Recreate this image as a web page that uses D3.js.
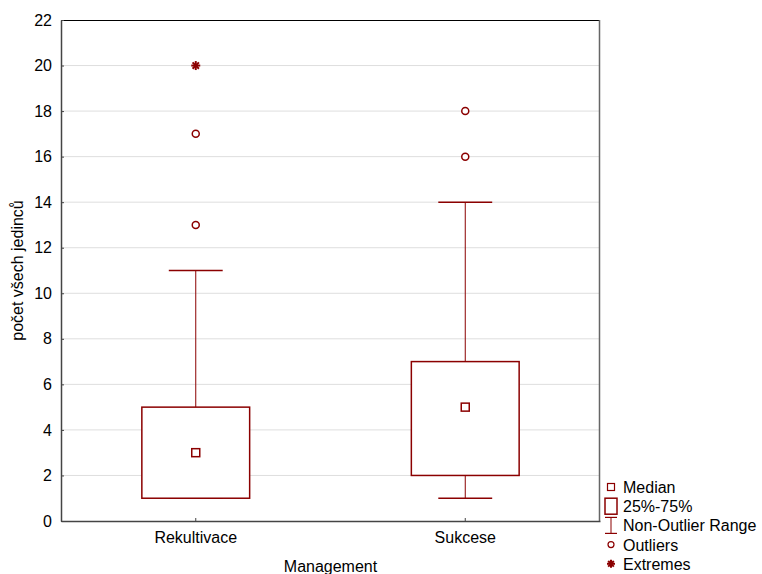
<!DOCTYPE html>
<html lang="cs">
<head>
<meta charset="UTF-8">
<title>Box plot</title>
<script src="https://d3js.org/d3.v7.min.js"></script>
<style>
  body { margin: 0; background: #fff; }
  svg { display: block; font-family: Arial, "Liberation Sans", sans-serif; }
</style>
</head>
<body>
<svg width="762" height="574"></svg>
<script>
// data
var categories = ["Rekultivace", "Sukcese"];
var q1 = [1, 2];
var q3 = [5, 7];
var medians = [3, 5];
var whiskerLow = [1, 1];
var whiskerHigh = [11, 14];
var outliers = [[13, 17], [16, 18]];
var extremes = [[20], []];
var yTicks = [0, 2, 4, 6, 8, 10, 12, 14, 16, 18, 20, 22];
var legendItems = ["Median", "25%-75%", "Non-Outlier Range", "Outliers", "Extremes"];

var svg = d3.select("svg");
// plot area (note: "top" is a reserved global in browsers, so use other names)
var plotLeft = 61, plotRight = 600, plotTop = 20, plotBottom = 521;
var red = "#8b0000";
var fontSize = "16px";

var x = d3.scaleBand().domain(categories).range([plotLeft, plotRight]);
var y = d3.scaleLinear().domain([0, 22]).range([plotBottom, plotTop]);

// grid lines
svg.append("g").selectAll("line")
  .data(yTicks.filter(d => d > 0 && d < 22))
  .join("line")
  .attr("x1", plotLeft).attr("x2", plotRight)
  .attr("y1", d => y(d)).attr("y2", d => y(d))
  .attr("stroke", "#dedede").attr("stroke-width", 1);

// frame
svg.append("line").attr("x1", plotLeft).attr("x2", plotRight).attr("y1", plotTop + 0.5).attr("y2", plotTop + 0.5)
  .attr("stroke", "#000");
svg.append("line").attr("x1", plotRight - 0.5).attr("x2", plotRight - 0.5).attr("y1", plotTop).attr("y2", plotBottom)
  .attr("stroke", "#666").attr("stroke-width", 1.5);

// axes
var yAxis = svg.append("g")
  .attr("transform", "translate(" + plotLeft + ",0)")
  .call(d3.axisLeft(y).tickValues(yTicks).tickSizeInner(-3).tickSizeOuter(0).tickPadding(9));
var xAxis = svg.append("g")
  .attr("transform", "translate(0," + plotBottom + ")")
  .call(d3.axisBottom(x).tickSizeInner(-3).tickSizeOuter(0).tickPadding(10));
[yAxis, xAxis].forEach(function (g) {
  g.select(".domain").attr("stroke", "#444").attr("stroke-width", 1.5);
  g.selectAll(".tick line").attr("stroke", "#444");
  g.selectAll("text").attr("fill", "#000").style("font-size", fontSize).style("font-family", "Arial, 'Liberation Sans', sans-serif");
});
xAxis.selectAll("text").attr("dy", "0.75em");

// axis titles
svg.append("text")
  .attr("x", (plotLeft + plotRight) / 2).attr("y", 572)
  .attr("text-anchor", "middle").style("font-size", fontSize)
  .text("Management");
svg.append("text")
  .attr("transform", "translate(23," + (plotTop + plotBottom) / 2 + ") rotate(-90)")
  .attr("text-anchor", "middle").style("font-size", fontSize)
  .text("počet všech jedinců");

// asterisk marker
function star(g, cx, cy, r) {
  for (var k = 0; k < 4; k++) {
    var a = k * Math.PI / 4;
    g.append("line")
      .attr("x1", cx - r * Math.cos(a)).attr("y1", cy - r * Math.sin(a))
      .attr("x2", cx + r * Math.cos(a)).attr("y2", cy + r * Math.sin(a))
      .attr("stroke", red).attr("stroke-width", 2);
  }
}

var boxW = x.bandwidth() * 0.4;
var capW = x.bandwidth() * 0.2;
var marks = svg.append("g");

categories.forEach(function (c, i) {
  var cx = x(c) + x.bandwidth() / 2;
  // whiskers
  marks.append("line").attr("x1", cx).attr("x2", cx)
    .attr("y1", y(whiskerHigh[i])).attr("y2", y(q3[i]))
    .attr("stroke", red).attr("stroke-width", 1);
  marks.append("line").attr("x1", cx).attr("x2", cx)
    .attr("y1", y(q1[i])).attr("y2", y(whiskerLow[i]))
    .attr("stroke", red).attr("stroke-width", 1);
  [whiskerHigh[i], whiskerLow[i]].forEach(function (v) {
    marks.append("line").attr("x1", cx - capW / 2).attr("x2", cx + capW / 2)
      .attr("y1", y(v)).attr("y2", y(v))
      .attr("stroke", red).attr("stroke-width", 1.5);
  });
  // box
  marks.append("rect")
    .attr("x", cx - boxW / 2).attr("y", y(q3[i]))
    .attr("width", boxW).attr("height", y(q1[i]) - y(q3[i]))
    .attr("fill", "#fff").attr("stroke", red).attr("stroke-width", 1.5);
  // median
  marks.append("rect")
    .attr("x", cx - 4).attr("y", y(medians[i]) - 4)
    .attr("width", 8).attr("height", 8)
    .attr("fill", "#fff").attr("stroke", red).attr("stroke-width", 1.5);
  // outliers
  outliers[i].forEach(function (v) {
    marks.append("circle").attr("cx", cx).attr("cy", y(v)).attr("r", 3.5)
      .attr("fill", "#fff").attr("stroke", red).attr("stroke-width", 1.5);
  });
  extremes[i].forEach(function (v) { star(marks, cx, y(v), 4.5); });
});

// legend
var lx = 611, ly = 487, lstep = 19.2;
var legend = svg.append("g");
legendItems.forEach(function (t, i) {
  var yy = ly + i * lstep;
  if (i === 0) {
    legend.append("rect").attr("x", lx - 3.5).attr("y", yy - 3.5).attr("width", 7).attr("height", 7)
      .attr("fill", "#fff").attr("stroke", red).attr("stroke-width", 1.2);
  } else if (i === 1) {
    legend.append("rect").attr("x", lx - 6).attr("y", yy - 8).attr("width", 12).attr("height", 16)
      .attr("fill", "#fff").attr("stroke", red).attr("stroke-width", 1.5);
  } else if (i === 2) {
    legend.append("line").attr("x1", lx).attr("x2", lx).attr("y1", yy - 8).attr("y2", yy + 8)
      .attr("stroke", red).attr("stroke-width", 1);
    legend.append("line").attr("x1", lx - 6).attr("x2", lx + 6).attr("y1", yy - 8).attr("y2", yy - 8)
      .attr("stroke", red).attr("stroke-width", 1.2);
    legend.append("line").attr("x1", lx - 6).attr("x2", lx + 6).attr("y1", yy + 8).attr("y2", yy + 8)
      .attr("stroke", red).attr("stroke-width", 1.2);
  } else if (i === 3) {
    legend.append("circle").attr("cx", lx).attr("cy", yy).attr("r", 3)
      .attr("fill", "#fff").attr("stroke", red).attr("stroke-width", 1.2);
  } else {
    star(legend, lx, yy, 4);
  }
  legend.append("text").attr("x", lx + 12).attr("y", yy + 6)
    .style("font-size", fontSize).text(t);
});
</script>
</body>
</html>
